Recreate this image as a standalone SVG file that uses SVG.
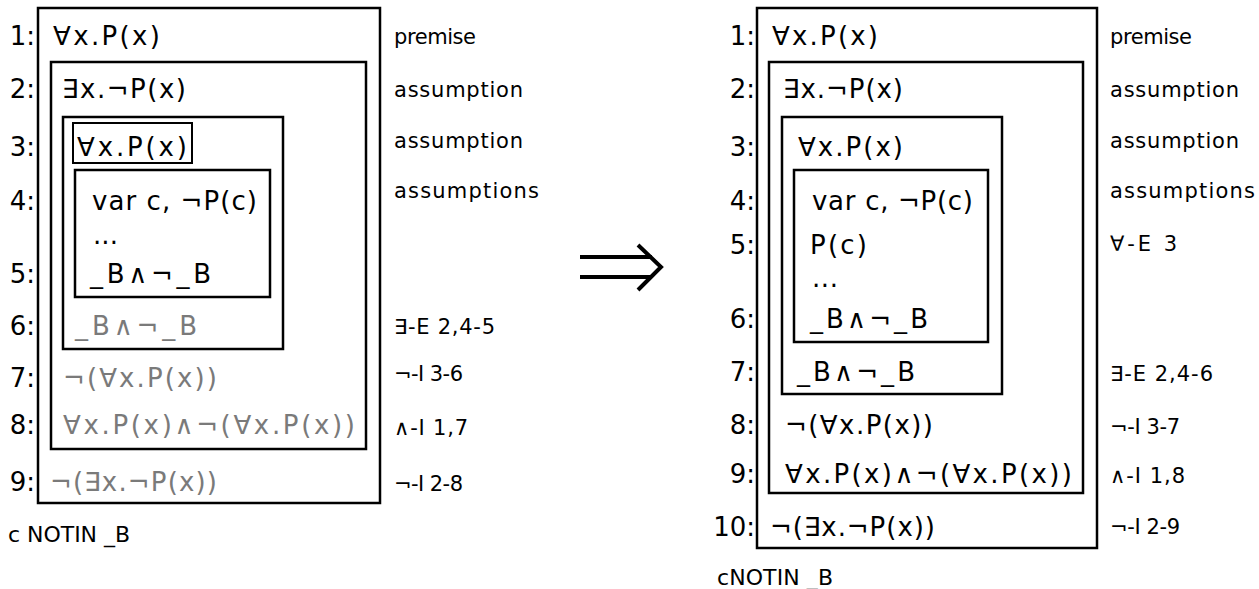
<svg xmlns="http://www.w3.org/2000/svg" width="1259" height="589" viewBox="0 0 1259 589">
<style>
  .box { fill: none; stroke: #000; stroke-width: 2.5; }
  .fbox { fill: none; stroke: #000; stroke-width: 2; }
  .f { font-family: "DejaVu Sans", "Liberation Sans", sans-serif; font-size: 26px; fill: #000; }
  .g { fill: #7a7a7a; }
  .n { font-family: "DejaVu Sans", "Liberation Sans", sans-serif; font-size: 26px; fill: #000; text-anchor: end; }
  .lab { font-family: "DejaVu Sans", "Liberation Sans", sans-serif; font-size: 21px; fill: #000; }
  .note { font-family: "DejaVu Sans", "Liberation Sans", sans-serif; font-size: 22px; fill: #000; }
  .arr { fill: none; stroke: #000; stroke-width: 4; stroke-linecap: butt; stroke-linejoin: miter; }
</style>
<rect width="1259" height="589" fill="#fff"/>

<!-- LEFT PROOF -->
<g id="left-proof">
  <g id="L-box1"><rect class="box" x="38" y="8" width="342" height="495"/></g>
  <g id="L-box2"><rect class="box" x="51" y="62" width="315" height="387"/></g>
  <g id="L-box3"><rect class="box" x="63" y="117" width="220" height="232"/></g>
  <g id="L-box3-formula"><rect class="fbox" x="73" y="123" width="119" height="40"/></g>
  <g id="L-box4"><rect class="box" x="75" y="170" width="195" height="127"/></g>

  <g id="L-numbers">
    <text class="n" x="35" y="45">1:</text>
    <text class="n" x="35" y="98">2:</text>
    <text class="n" x="35" y="156">3:</text>
    <text class="n" x="35" y="210">4:</text>
    <text class="n" x="35" y="283">5:</text>
    <text class="n" x="35" y="335">6:</text>
    <text class="n" x="35" y="387">7:</text>
    <text class="n" x="35" y="434">8:</text>
    <text class="n" x="35" y="491">9:</text>
  </g>

  <g id="L-formulas">
    <text class="f" x="53" y="45" textLength="107">∀x.P(x)</text>
    <text class="f" x="62" y="98" textLength="124">∃x.¬P(x)</text>
    <text class="f" x="77" y="156" textLength="110">∀x.P(x)</text>
    <text class="f" x="92" y="210" textLength="165">var c, ¬P(c)</text>
    <text class="f" x="93" y="244" textLength="25">...</text>
    <text class="f" x="90" y="283" textLength="121">_B∧¬_B</text>
    <text class="f g" x="75" y="335" textLength="122">_B∧¬_B</text>
    <text class="f g" x="63" y="387" textLength="154">¬(∀x.P(x))</text>
    <text class="f g" x="63" y="434" textLength="292">∀x.P(x)∧¬(∀x.P(x))</text>
    <text class="f g" x="50" y="491" textLength="167">¬(∃x.¬P(x))</text>
  </g>

  <g id="L-labels">
    <text class="lab" x="394" y="44" textLength="82">premise</text>
    <text class="lab" x="394" y="97" textLength="129">assumption</text>
    <text class="lab" x="394" y="148" textLength="129">assumption</text>
    <text class="lab" x="394" y="198" textLength="145">assumptions</text>
    <text class="lab" x="394" y="334" textLength="101">∃-E 2,4-5</text>
    <text class="lab" x="394" y="381" textLength="69">¬-I 3-6</text>
    <text class="lab" x="394" y="435" textLength="74">∧-I 1,7</text>
    <text class="lab" x="394" y="491" textLength="69">¬-I 2-8</text>
  </g>
  <text class="note" x="8" y="542" textLength="122">c NOTIN _B</text>
</g>

<!-- CONNECTOR: double arrow -->
<g id="connectors">
  <path class="arr" d="M580,257 H652 M580,277 H652"/>
  <path class="arr" d="M638,245 L661,267 L638,290"/>
</g>

<!-- RIGHT PROOF -->
<g id="right-proof">
  <g id="R-box1"><rect class="box" x="757" y="8" width="340" height="540"/></g>
  <g id="R-box2"><rect class="box" x="769" y="62" width="314" height="431"/></g>
  <g id="R-box3"><rect class="box" x="782" y="117" width="220" height="277"/></g>
  <g id="R-box4"><rect class="box" x="794" y="170" width="194" height="172"/></g>

  <g id="R-numbers">
    <text class="n" x="755" y="45">1:</text>
    <text class="n" x="755" y="98">2:</text>
    <text class="n" x="755" y="156">3:</text>
    <text class="n" x="755" y="210">4:</text>
    <text class="n" x="755" y="254">5:</text>
    <text class="n" x="755" y="328">6:</text>
    <text class="n" x="755" y="381">7:</text>
    <text class="n" x="755" y="434">8:</text>
    <text class="n" x="755" y="483">9:</text>
    <text class="n" x="755" y="536">10:</text>
  </g>

  <g id="R-formulas">
    <text class="f" x="772" y="45" textLength="106">∀x.P(x)</text>
    <text class="f" x="783" y="98" textLength="120">∃x.¬P(x)</text>
    <text class="f" x="798" y="156" textLength="105">∀x.P(x)</text>
    <text class="f" x="812" y="210" textLength="161">var c, ¬P(c)</text>
    <text class="f" x="810" y="254" textLength="57">P(c)</text>
    <text class="f" x="812" y="287" textLength="26">...</text>
    <text class="f" x="810" y="328" textLength="118">_B∧¬_B</text>
    <text class="f" x="797" y="381" textLength="118">_B∧¬_B</text>
    <text class="f" x="785" y="434" textLength="148">¬(∀x.P(x))</text>
    <text class="f" x="785" y="483" textLength="287">∀x.P(x)∧¬(∀x.P(x))</text>
    <text class="f" x="770" y="536" textLength="165">¬(∃x.¬P(x))</text>
  </g>

  <g id="R-labels">
    <text class="lab" x="1110" y="44" textLength="82">premise</text>
    <text class="lab" x="1110" y="97" textLength="129">assumption</text>
    <text class="lab" x="1110" y="148" textLength="129">assumption</text>
    <text class="lab" x="1110" y="198" textLength="145">assumptions</text>
    <text class="lab" x="1110" y="251" textLength="67">∀-E 3</text>
    <text class="lab" x="1110" y="381" textLength="103">∃-E 2,4-6</text>
    <text class="lab" x="1110" y="434" textLength="70">¬-I 3-7</text>
    <text class="lab" x="1110" y="483" textLength="75">∧-I 1,8</text>
    <text class="lab" x="1110" y="534" textLength="70">¬-I 2-9</text>
  </g>
  <text class="note" x="717" y="585" textLength="116">cNOTIN _B</text>
</g>
</svg>
